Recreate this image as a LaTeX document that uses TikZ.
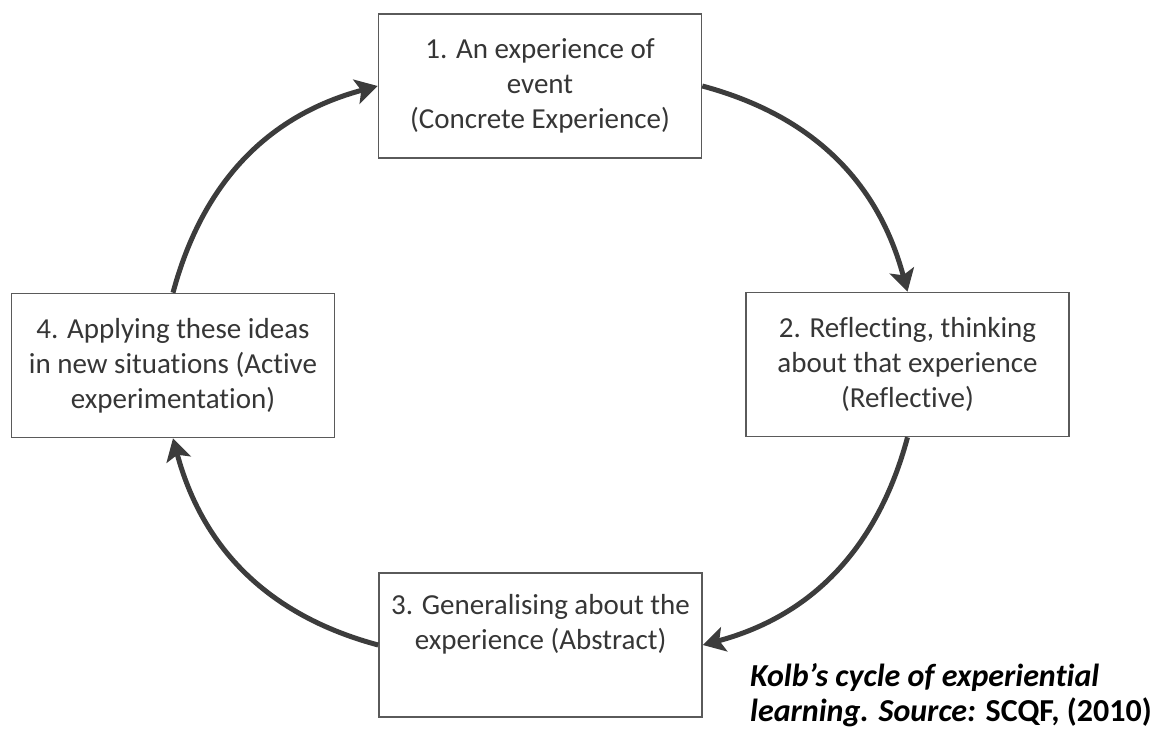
\documentclass[tikz,border=0pt]{standalone}
\usepackage{fontspec}
\setmainfont[Ligatures=NoCommon]{Carlito}
\usetikzlibrary{arrows.meta}
\definecolor{boxline}{HTML}{5A5A5A}
\definecolor{boxtext}{HTML}{363636}
\definecolor{arrowcol}{HTML}{3C3C3C}
\tikzset{
  stagebox/.style={draw=boxline, line width=1.6pt, fill=white,
    minimum width=323pt, minimum height=144pt, inner sep=0pt,
    align=center, text=boxtext, font=\fontsize{29}{35}\selectfont},
  cycarrow/.style={draw=arrowcol, line width=5pt,
    -{Stealth[length=22pt,width=25pt,inset=5pt]}},
  captiontext/.style={align=left, inner sep=0pt, text=black,
    font=\fontsize{32}{35}\selectfont\bfseries}
}
\begin{document}
\begin{tikzpicture}[x=1pt,y=-1pt]
  \useasboundingbox (0,0) rectangle (1155,731);
  \node[stagebox] (b1) at (540,86) {1. An experience of\\event\\(Concrete Experience)};
  \node[stagebox] (b2) at (907.5,364.5) {2. Reflecting, thinking\\about that experience\\(Reflective)};
  \node[stagebox] (b3) at (540.5,645) {3. Generalising about the\\experience (Abstract)\\\strut};
  \node[stagebox] (b4) at (173,365.5) {4. Applying these ideas\\in new situations (Active\\experimentation)};
  \draw[cycarrow] (b1.east) to[out=-15,in=105] (b2.north);
  \draw[cycarrow] (b2.south) to[out=-105,in=15] (b3.east);
  \draw[cycarrow] (b3.west) to[out=165,in=-75] (b4.south);
  \draw[cycarrow] (b4.north) to[out=75,in=195] (b1.west);
  \node[captiontext, anchor=base west] (cap) at (750,721)
    {\textit{Kolb’s cycle of experiential}\\\textit{learning. Source:} SCQF, (2010)};
\end{tikzpicture}
\end{document}
